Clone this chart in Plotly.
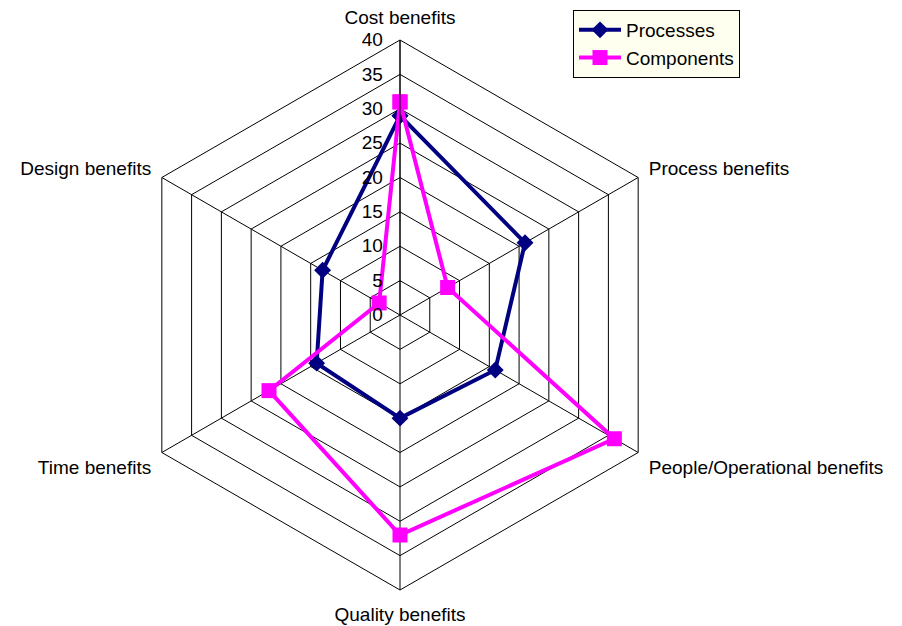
import plotly.graph_objects as go

categories = ["Cost benefits", "Process benefits", "People/Operational benefits",
              "Quality benefits", "Time benefits", "Design benefits"]
processes = [29, 21, 16, 15, 14, 13]
components = [31, 8, 36, 32, 22, 3.5]
radial_ticks = [0, 5, 10, 15, 20, 25, 30, 35, 40]

W, H = 902, 626
cx, cy, R = 400, 315, 275

fig = go.Figure()
fig.add_trace(go.Scatterpolar(
    r=processes + [processes[0]], theta=categories + [categories[0]],
    mode="lines+markers", name="Processes",
    line=dict(color="#000080", width=4),
    marker=dict(symbol="diamond", size=13, color="#000080"),
))
fig.add_trace(go.Scatterpolar(
    r=components + [components[0]], theta=categories + [categories[0]],
    mode="lines+markers", name="Components",
    line=dict(color="#FF00FF", width=4),
    marker=dict(symbol="square", size=15, color="#FF00FF"),
))

fig.update_layout(
    width=W, height=H,
    margin=dict(l=0, r=0, t=0, b=0),
    paper_bgcolor="white",
    font=dict(family="Liberation Sans, Arial, sans-serif", size=19, color="black"),
    polar=dict(
        domain=dict(x=[(cx - R) / W, (cx + R) / W], y=[1 - (cy + R) / H, 1 - (cy - R) / H]),
        bgcolor="white",
        gridshape="linear",
        angularaxis=dict(
            rotation=90, direction="clockwise",
            showline=True, linecolor="black", linewidth=1,
            gridcolor="black", gridwidth=1,
            ticks="outside", ticklen=8, tickcolor="rgba(0,0,0,0)",
            tickfont=dict(size=19),
        ),
        radialaxis=dict(
            range=[0, 40], tickvals=radial_ticks,
            angle=90, tickangle=90, side="counterclockwise",
            showline=True, linecolor="black", linewidth=1,
            gridcolor="black", gridwidth=1,
            ticks="outside", ticklen=10, tickcolor="rgba(0,0,0,0)",
            tickfont=dict(size=19),
        ),
    ),
    legend=dict(
        x=573 / W, y=1 - 10 / H, xanchor="left", yanchor="top",
        bgcolor="#FFFFF0", bordercolor="black", borderwidth=1,
        font=dict(size=19), tracegroupgap=0,
        itemwidth=42,
    ),
)

fig.write_html("out.html")
